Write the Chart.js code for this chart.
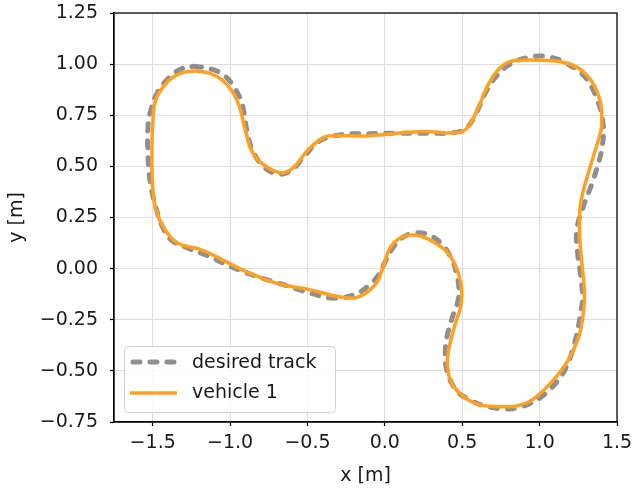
<!DOCTYPE html>
<html>
<head>
<meta charset="utf-8">
<script src="https://cdn.jsdelivr.net/npm/chart.js@4"></script>
<style>
html,body{margin:0;padding:0;background:#fff;}
#wrap{width:635px;height:490px;position:relative;}
</style>
</head>
<body>
<div id="wrap"><canvas id="c" width="635" height="490"></canvas></div>
<script>
const xTicks = [-1.5, -1.0, -0.5, 0.0, 0.5, 1.0, 1.5];
const yTicks = [-0.75, -0.5, -0.25, 0.0, 0.25, 0.5, 0.75, 1.0, 1.25];

const desiredX = [-1.23,-1.12,-1.03,-0.96,-0.92,-0.89,-0.85,-0.77,-0.67,-0.59,-0.52,-0.42,-0.28,-0.1,0.1,0.3,0.45,0.53,0.59,0.65,0.72,0.81,0.94,1.06,1.17,1.29,1.365,1.41,1.40,1.346,1.282,1.24,1.245,1.26,1.278,1.269,1.226,1.16,1.08,0.98,0.86,0.75,0.63,0.53,0.46,0.40,0.392,0.412,0.445,0.472,0.478,0.462,0.435,0.375,0.29,0.205,0.12,0.05,0.0,-0.04,-0.10,-0.19,-0.33,-0.48,-0.65,-0.82,-0.99,-1.15,-1.27,-1.38,-1.44,-1.48,-1.515,-1.53,-1.53,-1.51,-1.47,-1.40,-1.32,-1.23];
const desiredY = [0.99,0.975,0.94,0.87,0.80,0.67,0.57,0.49,0.462,0.49,0.55,0.625,0.655,0.66,0.662,0.662,0.665,0.69,0.76,0.86,0.94,1.0,1.035,1.035,1.005,0.94,0.84,0.71,0.58,0.433,0.303,0.19,0.08,-0.007,-0.137,-0.2,-0.364,-0.50,-0.58,-0.643,-0.68,-0.685,-0.668,-0.634,-0.594,-0.496,-0.382,-0.30,-0.218,-0.16,-0.09,-0.02,0.04,0.115,0.163,0.175,0.155,0.1,0.03,-0.03,-0.08,-0.125,-0.145,-0.12,-0.08,-0.04,0.008,0.065,0.10,0.14,0.21,0.30,0.42,0.55,0.70,0.78,0.86,0.93,0.975,0.99];

const vehicleX = [-1.227,-1.13,-1.05,-0.98,-0.94,-0.896,-0.852,-0.764,-0.66,-0.585,-0.497,-0.42,-0.365,-0.122,0.05,0.253,0.474,0.54,0.606,0.672,0.73,0.805,0.937,1.18,1.312,1.389,1.40,1.38,1.327,1.273,1.258,1.26,1.273,1.29,1.282,1.25,1.157,0.981,0.86,0.76,0.584,0.445,0.405,0.412,0.456,0.485,0.498,0.488,0.44,0.363,0.187,0.055,-0.011,-0.056,-0.166,-0.276,-0.475,-0.696,-0.872,-1.027,-1.181,-1.335,-1.42,-1.478,-1.50,-1.505,-1.50,-1.48,-1.404,-1.32,-1.227];
const vehicleY = [0.968,0.955,0.922,0.86,0.792,0.662,0.564,0.498,0.468,0.498,0.58,0.63,0.649,0.649,0.66,0.67,0.665,0.694,0.792,0.906,0.97,1.012,1.02,1.004,0.94,0.825,0.694,0.63,0.498,0.352,0.254,0.14,0.026,-0.12,-0.22,-0.34,-0.48,-0.626,-0.67,-0.675,-0.659,-0.577,-0.48,-0.40,-0.267,-0.2,-0.13,-0.06,0.04,0.107,0.164,0.124,0.01,-0.072,-0.137,-0.14,-0.105,-0.072,-0.023,0.034,0.091,0.124,0.19,0.285,0.40,0.55,0.70,0.825,0.914,0.955,0.968];

const FONT = "'DejaVu Sans', sans-serif";
const FS = 19;
const GRAY = '#8f8f8f';
const ORANGE = '#ffa020';

function pts(xs, ys) { return xs.map((x, i) => ({x: x, y: ys[i]})); }
function fmt(v, d) { const s = Math.abs(v).toFixed(d); return v < -1e-9 ? '\u2212' + s : s; }

const frame = {
  id: 'frame',
  afterDatasetsDraw(chart) {
    const {ctx, chartArea: a} = chart;
    ctx.save();
    const lx = 124.5, ly = 346.5, lw = 211, lh = 66, r = 4;
    ctx.beginPath();
    ctx.moveTo(lx + r, ly);
    ctx.arcTo(lx + lw, ly, lx + lw, ly + lh, r);
    ctx.arcTo(lx + lw, ly + lh, lx, ly + lh, r);
    ctx.arcTo(lx, ly + lh, lx, ly, r);
    ctx.arcTo(lx, ly, lx + lw, ly, r);
    ctx.closePath();
    ctx.fillStyle = 'rgba(255,255,255,0.8)';
    ctx.fill();
    ctx.strokeStyle = '#d0d0d0';
    ctx.lineWidth = 1;
    ctx.stroke();
    ctx.lineCap = 'round';
    ctx.strokeStyle = GRAY;
    ctx.lineWidth = 5;
    ctx.setLineDash([7, 10]);
    ctx.beginPath(); ctx.moveTo(133, 362); ctx.lineTo(175, 362); ctx.stroke();
    ctx.setLineDash([]);
    ctx.lineCap = 'butt';
    ctx.strokeStyle = ORANGE;
    ctx.lineWidth = 3.5;
    ctx.beginPath(); ctx.moveTo(130, 393); ctx.lineTo(177, 393); ctx.stroke();
    ctx.fillStyle = '#1a1a1a';
    ctx.font = FS + 'px ' + FONT;
    ctx.textBaseline = 'middle';
    ctx.textAlign = 'left';
    ctx.fillText(chart.data.datasets[0].label, 192, 363);
    ctx.fillText(chart.data.datasets[1].label, 192, 393);
    ctx.strokeStyle = '#000';
    ctx.lineWidth = 1.25;
    ctx.strokeRect(a.left, a.top, a.right - a.left, a.bottom - a.top);
    ctx.restore();
  }
};

new Chart(document.getElementById('c'), {
  type: 'scatter',
  data: {
    datasets: [
      {label: 'desired track', data: pts(desiredX, desiredY), showLine: true, borderColor: GRAY,
       borderWidth: 5, borderDash: [7, 10], borderCapStyle: 'round', tension: 0.4, pointRadius: 0, order: 2, fill: false},
      {label: 'vehicle 1', data: pts(vehicleX, vehicleY), showLine: true, borderColor: ORANGE,
       borderWidth: 3.5, tension: 0.4, pointRadius: 0, order: 1, fill: false}
    ]
  },
  options: {
    responsive: false,
    animation: false,
    devicePixelRatio: 1,
    layout: {padding: {top: 13, right: 18, left: 0, bottom: 0}},
    plugins: {legend: {display: false}, tooltip: {enabled: false}},
    scales: {
      x: {
        type: 'linear', min: -1.75, max: 1.5,
        afterBuildTicks: s => { s.ticks = xTicks.map(v => ({value: v})); },
        afterFit: s => { s.height = 68; s.paddingLeft = 0; s.paddingRight = 0; },
        ticks: {callback: v => fmt(v, 1), color: '#1a1a1a', font: {family: FONT, size: FS}, padding: 6, maxRotation: 0, autoSkip: false},
        grid: {color: '#dedede', lineWidth: 1, tickColor: '#000', tickLength: 4, tickWidth: 1.25},
        border: {color: '#000', width: 1.25},
        title: {display: true, text: 'x [m]', color: '#1a1a1a', font: {family: FONT, size: FS}, padding: {bottom: 3, top: 0}}
      },
      y: {
        type: 'linear', min: -0.75, max: 1.25,
        afterBuildTicks: s => { s.ticks = yTicks.map(v => ({value: v})); },
        afterFit: s => { s.width = 114; s.paddingTop = 0; s.paddingBottom = 0; },
        ticks: {callback: v => fmt(v, 2), color: '#1a1a1a', font: {family: FONT, size: FS}, padding: 12, autoSkip: false},
        grid: {color: '#dedede', lineWidth: 1, tickColor: '#000', tickLength: 4, tickWidth: 1.25},
        border: {color: '#000', width: 1.25},
        title: {display: true, text: 'y [m]', color: '#1a1a1a', font: {family: FONT, size: FS}, padding: {top: 6, bottom: 0}}
      }
    }
  },
  plugins: [frame]
});
</script>
</body>
</html>
